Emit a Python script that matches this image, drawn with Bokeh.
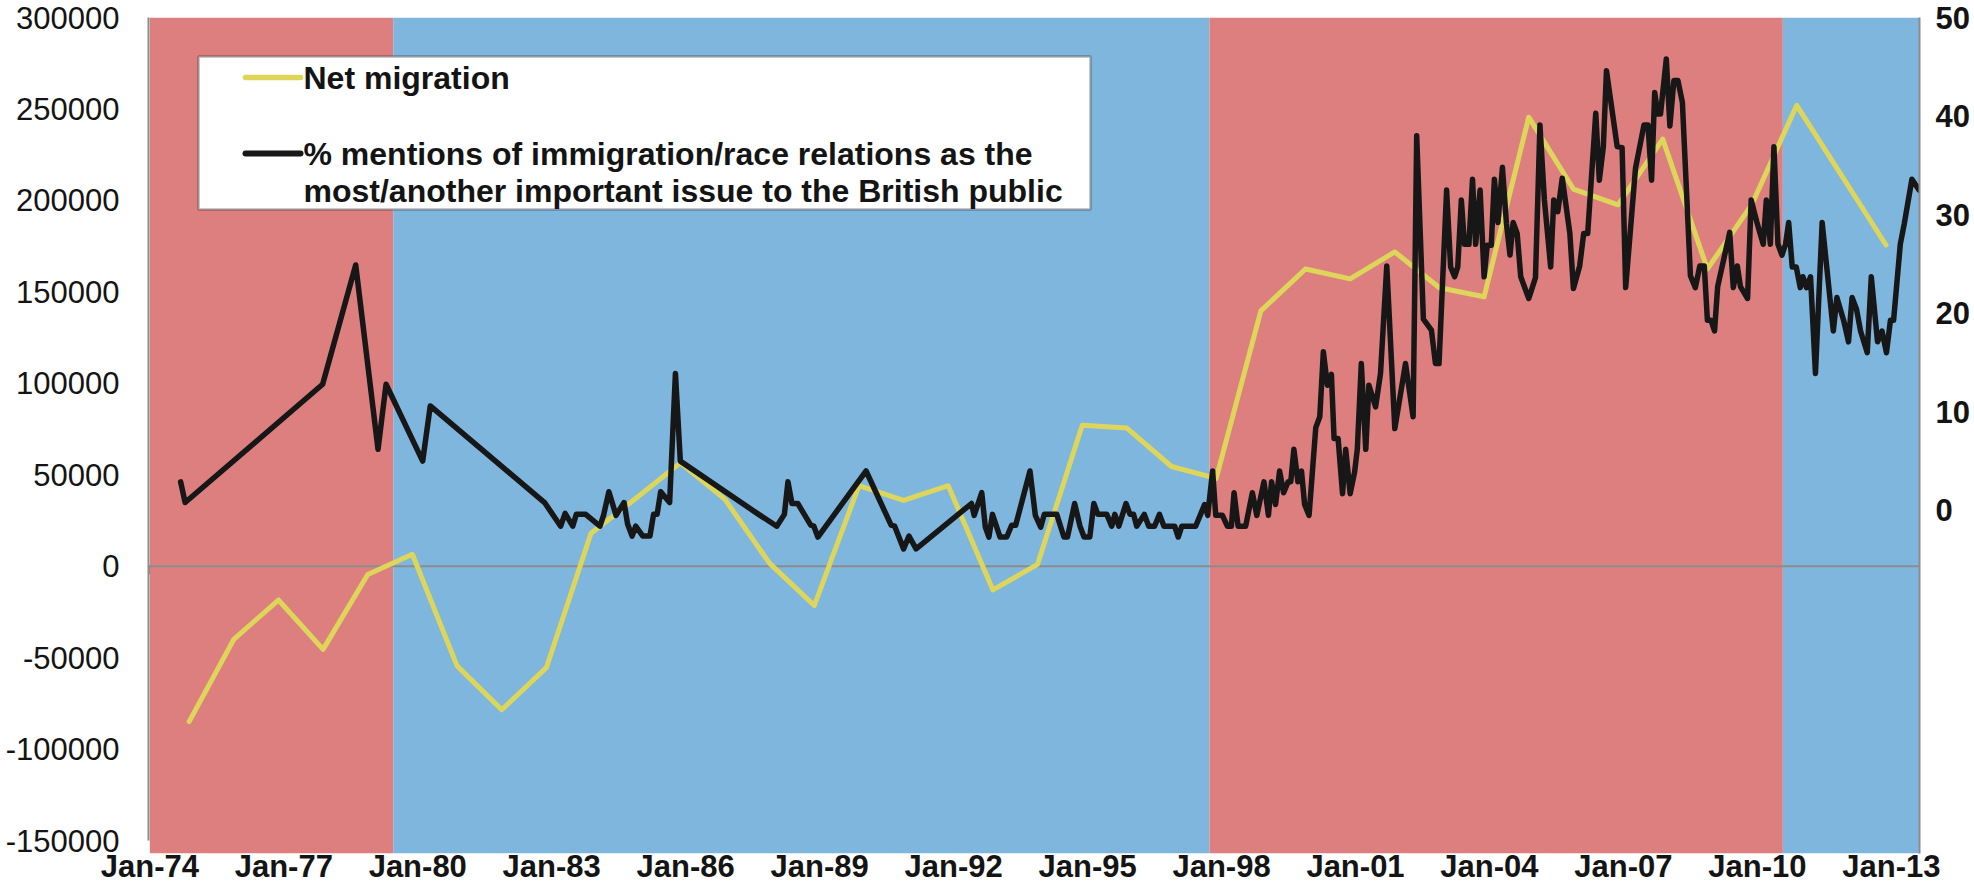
from bokeh.plotting import figure
from bokeh.models import Range1d, LinearAxis, FixedTicker, BoxAnnotation, Span, Label
from bokeh.embed import file_html
from bokeh.resources import INLINE

# ---------------- data ----------------
net_years = list(range(1974, 2013))
net_migration = [-85000, -40000, -18500, -45500, -4500, 6500, -54500, -78500, -55500, 18000,
                 37000, 56500, 36500, 1500, -21500, 44000, 36000, 44000, -13000, 1000,
                 77000, 75500, 54500, 48000, 139600, 162500, 157100, 171800, 152200, 147300,
                 245500, 206200, 197500, 233500, 162500, 198000, 252000, 213800, 175600]
net_offset = 0.88  # annual figures plotted near year end

mori_dates = [
    1974.69, 1974.79, 1977.87, 1978.61, 1979.11, 1979.29, 1980.11, 1980.28, 1982.84,
    1983.20, 1983.30, 1983.47, 1983.55, 1983.76, 1984.08, 1984.16, 1984.28, 1984.44, 1984.62, 1984.70,
    1984.80, 1984.88, 1985.04, 1985.20, 1985.28, 1985.36, 1985.44, 1985.64, 1985.77, 1985.88,
    1987.60, 1988.04, 1988.21, 1988.29, 1988.38, 1988.51, 1988.80, 1988.87, 1988.96,
    1990.04, 1990.60, 1990.68, 1990.88, 1991.00, 1991.16,
    1992.40, 1992.46, 1992.63, 1992.71, 1992.79, 1992.87, 1993.04, 1993.19, 1993.30, 1993.39, 1993.71, 1993.83, 1993.95,
    1994.03, 1994.31, 1994.47, 1994.55, 1994.71, 1994.83, 1994.92, 1995.05, 1995.14, 1995.23, 1995.43, 1995.54,
    1995.61, 1995.70, 1995.86, 1995.95,
    1996.03, 1996.10, 1996.27, 1996.37, 1996.50, 1996.61, 1996.71, 1996.95, 1997.03, 1997.11, 1997.42,
    1997.53, 1997.62, 1997.69, 1997.80, 1997.87, 1998.02, 1998.13, 1998.22, 1998.28, 1998.37, 1998.54, 1998.69,
    1998.79, 1998.95,
    1999.05, 1999.12, 1999.21, 1999.30, 1999.39, 1999.49, 1999.55, 1999.62, 1999.71, 1999.79, 1999.86, 1999.96,
    2000.11, 2000.20, 2000.28, 2000.37, 2000.46, 2000.52, 2000.61, 2000.71, 2000.78, 2000.88, 2000.98,
    2001.04, 2001.13, 2001.23, 2001.30, 2001.45, 2001.56, 2001.70, 2001.88,
    2002.12, 2002.29, 2002.37, 2002.52, 2002.70, 2002.79, 2002.87,
    2003.04, 2003.13, 2003.22, 2003.29, 2003.37, 2003.44, 2003.54, 2003.62, 2003.69, 2003.79, 2003.88, 2003.95,
    2004.04, 2004.11, 2004.19, 2004.29, 2004.38, 2004.46, 2004.53, 2004.62, 2004.70, 2004.88,
    2005.03, 2005.13, 2005.23, 2005.37, 2005.44, 2005.53, 2005.63, 2005.80, 2005.88,
    2006.02, 2006.11, 2006.20, 2006.38, 2006.46, 2006.55, 2006.62, 2006.86, 2006.97,
    2007.05, 2007.27, 2007.46, 2007.55, 2007.63, 2007.70, 2007.77, 2007.83, 2007.96,
    2008.04, 2008.13, 2008.22, 2008.32, 2008.50, 2008.61, 2008.71, 2008.81, 2008.88, 2008.96,
    2009.04, 2009.11, 2009.38, 2009.46, 2009.55, 2009.62, 2009.78, 2009.86, 2009.99,
    2010.13, 2010.20, 2010.29, 2010.37, 2010.46, 2010.55, 2010.63, 2010.70, 2010.78, 2010.87, 2010.96,
    2011.02, 2011.10, 2011.19, 2011.30, 2011.45, 2011.70, 2011.78, 2011.93,
    2012.04, 2012.12, 2012.22, 2012.31, 2012.46, 2012.55, 2012.69, 2012.79, 2012.89, 2012.98,
    2013.05, 2013.20, 2013.29, 2013.46, 2013.62]
mori_pct = [
    2.9, 0.8, 12.8, 24.9, 6.2, 12.8, 5.0, 10.6, 0.8,
    -1.6, -0.3, -1.6, -0.4, -0.4, -1.6, -0.5, 1.9, -0.5, 0.8, -1.4,
    -2.6, -1.6, -2.6, -2.6, -0.4, -0.4, 1.9, 0.8, 13.9, 5.0,
    -0.3, -1.6, -0.4, 2.9, 0.7, 0.7, -1.5, -1.6, -2.7,
    4.0, -1.5, -1.6, -3.9, -2.6, -3.9,
    0.7, -0.5, 1.8, -1.7, -2.7, -0.4, -2.7, -2.7, -1.5, -1.5, 4.0, -0.5, -1.7,
    -0.4, -0.4, -2.7, -2.7, 0.7, -1.6, -2.7, -2.7, 0.7, -0.4, -0.4, -1.6,
    -0.4, -1.6, 0.7, -0.4,
    -0.4, -1.6, -0.4, -1.6, -1.6, -0.4, -1.6, -1.6, -2.7, -1.6, -1.6,
    -0.4, 0.6, -0.5, 4.0, -0.5, -0.5, -1.6, -1.6, 1.8, -1.6, -1.6, 1.8,
    -0.5, 2.9,
    -0.5, 2.9, 0.6, 4.0, 1.8, 2.9, 2.9, 6.2, 2.9, 4.0, 0.6, -0.5,
    8.4, 9.5, 16.1, 12.7, 13.8, 7.3, 7.3, 1.7, 6.2, 1.7, 3.9,
    6.2, 14.9, 6.2, 12.7, 10.5, 13.9, 24.8, 8.3,
    14.9, 9.5, 38.0, 19.4, 18.3, 14.9, 14.9,
    32.5, 24.7, 23.7, 24.7, 31.5, 27.0, 27.0, 33.6, 27.0, 32.5, 23.7, 26.9,
    26.9, 33.6, 29.2, 34.8, 29.1, 25.9, 29.2, 28.1, 23.7, 21.5,
    23.6, 39.1, 31.5, 24.7, 31.5, 30.3, 33.7, 28.1, 22.5,
    24.8, 28.1, 28.1, 40.3, 33.5, 36.9, 44.6, 36.9, 36.8,
    22.6, 34.7, 39.1, 39.1, 33.5, 42.4, 40.2, 40.2, 45.8,
    39.0, 43.6, 43.6, 41.4, 23.8, 22.6, 24.8, 24.8, 19.3, 19.3,
    18.2, 22.7, 28.2, 22.6, 24.8, 22.7, 21.5, 31.5, 29.2,
    27.0, 31.5, 27.0, 36.9, 27.0, 25.9, 27.0, 29.2, 24.7, 24.7, 22.6,
    23.7, 22.6, 23.7, 13.9, 29.2, 18.2, 21.6, 19.3,
    17.1, 21.6, 20.4, 18.2, 16.0, 23.7, 17.1, 18.2, 16.0, 19.3,
    19.3, 27.0, 29.1, 33.6, 32.5]

gov_start = [1974.0, 1979.45, 1997.73, 2010.57]
gov_end = [1979.45, 1997.73, 2010.57, 2013.67]
gov_party = ["Labour", "Conservative", "Labour", "Coalition"]

tick_years = list(range(1974, 2014, 3))
tick_labels = ["Jan-%02d" % (y % 100) for y in tick_years]
left_ticks = [-150000, -100000, -50000, 0, 50000, 100000, 150000, 200000, 250000, 300000]
right_ticks = [0, 10, 20, 30, 40, 50]

legend_net = "Net migration"
legend_mori_1 = "% mentions of immigration/race relations as the"
legend_mori_2 = "most/another important issue to the British public"

# ---------------- style ----------------
RED = "#DE7F7F"
BLUE = "#7FB6DE"
party_color = {"Labour": RED, "Conservative": BLUE, "Coalition": BLUE}
YELLOW = "#DDD65A"
BLACK = "#171717"
GREY = "#8C8C8C"
TXT = "#141414"
FONT = "Liberation Sans"

W, H = 1974, 895
BL, BR, BT, BB = 148, 55, 17, 42
X0, X1 = 1973.97, 2013.63
Y0, Y1 = -157100, 300000
R0, R1 = -34.8, 50

FW = W - BL - BR
FH = H - BT - BB


def xd(px):
    return X0 + (px - BL) / FW * (X1 - X0)


def yd(py):
    return Y1 - (py - BT) / FH * (Y1 - Y0)


p = figure(width=W, height=H, x_range=Range1d(X0, X1), y_range=Range1d(Y0, Y1),
           output_backend="svg", toolbar_location=None,
           min_border_left=BL, min_border_right=BR, min_border_top=BT, min_border_bottom=BB)
p.extra_y_ranges = {"pct": Range1d(R0, R1)}
p.outline_line_color = None
p.grid.visible = False
p.background_fill_color = "white"

# government bands
for s, e, party in zip(gov_start, gov_end, gov_party):
    p.add_layout(BoxAnnotation(left=s, right=e, fill_color=party_color[party], fill_alpha=1.0,
                               line_color=None, level="underlay"))

# zero line with tick marks
p.add_layout(Span(location=0, dimension="width", line_color=GREY, line_width=2, level="underlay"))
tick_len = (Y1 - Y0) * 8 / FH
tk = p.segment(x0=tick_years, x1=tick_years, y0=[0] * len(tick_years), y1=[-tick_len] * len(tick_years),
               line_color=GREY, line_width=2)
tk.level = "underlay"

# series
p.line([y + net_offset for y in net_years], net_migration, line_color=YELLOW, line_width=5,
       line_join="round", line_cap="round")
p.line(mori_dates, mori_pct, y_range_name="pct", line_color=BLACK, line_width=5.5,
       line_join="round", line_cap="round")

# axes
xa = p.xaxis[0]
xa.ticker = FixedTicker(ticks=tick_years)
xa.major_label_overrides = {y: l for y, l in zip(tick_years, tick_labels)}
xa.axis_line_color = None
xa.major_tick_line_color = None
xa.minor_tick_line_color = None
xa.major_tick_out = 0
xa.major_tick_in = 0
xa.major_label_standoff = -5
xa.major_label_text_font = FONT
xa.major_label_text_font_style = "bold"
xa.major_label_text_font_size = "31px"
xa.major_label_text_color = TXT

ya = p.yaxis[0]
ya.ticker = FixedTicker(ticks=left_ticks)
ya.major_label_overrides = {v: str(v) for v in left_ticks}
ya.bounds = (left_ticks[0], left_ticks[-1])
ya.axis_line_color = GREY
ya.axis_line_width = 2
ya.major_tick_line_color = None
ya.minor_tick_line_color = None
ya.major_tick_out = 0
ya.major_tick_in = 0
ya.major_label_standoff = 29
ya.major_label_text_font = FONT
ya.major_label_text_font_size = "31px"
ya.major_label_text_color = TXT

ra = LinearAxis(y_range_name="pct", ticker=FixedTicker(ticks=right_ticks))
ra.axis_line_color = GREY
ra.axis_line_width = 2
ra.major_tick_line_color = None
ra.minor_tick_line_color = None
ra.major_tick_out = 0
ra.major_tick_in = 0
ra.major_label_standoff = 16
ra.major_label_text_font = FONT
ra.major_label_text_font_style = "bold"
ra.major_label_text_font_size = "31px"
ra.major_label_text_color = TXT
p.add_layout(ra, "right")

# legend (drawn by hand to get the two-line entry)
p.add_layout(BoxAnnotation(left=xd(198), right=xd(1090), top=yd(56), bottom=yd(209),
                           fill_color="white", fill_alpha=1.0, line_color="#111111", line_width=2.5))
l1 = p.line([xd(245), xd(300)], [yd(77), yd(77)], line_color=YELLOW, line_width=5.5, line_cap="round")
l1.level = "overlay"
l2 = p.line([xd(245), xd(300)], [yd(153), yd(153)], line_color=BLACK, line_width=6, line_cap="round")
l2.level = "overlay"
for txt, py in [(legend_net, 77), (legend_mori_1, 153), (legend_mori_2, 190)]:
    p.add_layout(Label(x=xd(303), y=yd(py), text=txt, text_baseline="middle", text_align="left",
                       text_font=FONT, text_font_style="bold", text_font_size="32px",
                       text_color=TXT))

open("out.html", "w").write(file_html(p, INLINE))
